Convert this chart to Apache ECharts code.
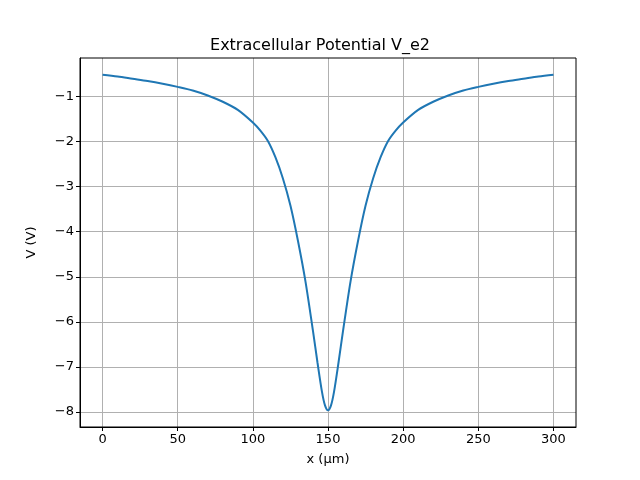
<!DOCTYPE html>
<html><head><meta charset="utf-8">
<script src="https://cdn.jsdelivr.net/npm/echarts@6/dist/echarts.min.js"></script>
<style>html,body{margin:0;padding:0;background:#fff}#c{width:640px;height:480px}</style>
</head><body><div id="c"></div>
<script>
const xs = [0,10,20,30,40,50,60,70,80,90,100,105,110,115,120,125,130,135,140,143,146,148,150,152,154,157,160,165,170,175,180,185,190,195,200,210,220,230,240,250,260,270,280,290,300];
const vs = [-0.52,-0.56,-0.61,-0.66,-0.72,-0.79,-0.87,-0.98,-1.12,-1.3,-1.58,-1.76,-1.99,-2.35,-2.82,-3.42,-4.2,-5.1,-6.2,-6.9,-7.55,-7.85,-7.96,-7.85,-7.55,-6.9,-6.2,-5.1,-4.2,-3.42,-2.82,-2.35,-1.99,-1.76,-1.58,-1.3,-1.12,-0.98,-0.87,-0.79,-0.72,-0.66,-0.61,-0.56,-0.52];
const xTicks = [0,50,100,150,200,250,300];
const yTicks = [-8,-7,-6,-5,-4,-3,-2,-1];
const data = xs.map((x,i)=>[x,vs[i]]);
const f = 'DejaVu Sans';
const ch = echarts.init(document.getElementById('c'));
ch.setOption({
  animation:false,
  title:{text:'Extracellular Potential V_e2',left:'center',top:33,textStyle:{fontFamily:f,fontSize:16,fontWeight:'normal',color:'#000'}},
  grid:{left:80,right:64,top:58,bottom:53},
  xAxis:{type:'value',min:-15,max:315,name:'x (μm)',nameLocation:'middle',nameGap:26,
    nameTextStyle:{fontFamily:f,fontSize:13,color:'#000'},
    axisLine:{onZero:false,lineStyle:{color:'#000'}},
    axisTick:{show:true,length:4,inside:false,customValues:xTicks,lineStyle:{color:'#000'}},
    axisLabel:{customValues:xTicks,fontFamily:f,fontSize:13,color:'#000',margin:6},
    splitLine:{show:true,lineStyle:{color:'#b0b0b0',width:1}}},
  yAxis:{type:'value',min:-8.33,max:-0.15,name:'V (V)',nameLocation:'middle',nameGap:42,
    nameTextStyle:{fontFamily:f,fontSize:13,color:'#000'},
    axisLine:{show:true,onZero:false,lineStyle:{color:'#000'}},
    axisTick:{show:true,length:4,customValues:yTicks,lineStyle:{color:'#000'}},
    axisLabel:{customValues:yTicks,fontFamily:f,fontSize:13,color:'#000',margin:6,formatter:v=>String(Math.round(v)).replace('-','\u2212')},
    splitLine:{show:true,lineStyle:{color:'#b0b0b0',width:1}}},
  series:[{type:'line',data:data,smooth:0.3,showSymbol:false,lineStyle:{color:'#1f77b4',width:2}}]
});
ch.setOption({graphic:[{type:'rect',shape:{x:80,y:58,width:496,height:369},style:{fill:'none',stroke:'#000',lineWidth:1}}]});
</script></body></html>
